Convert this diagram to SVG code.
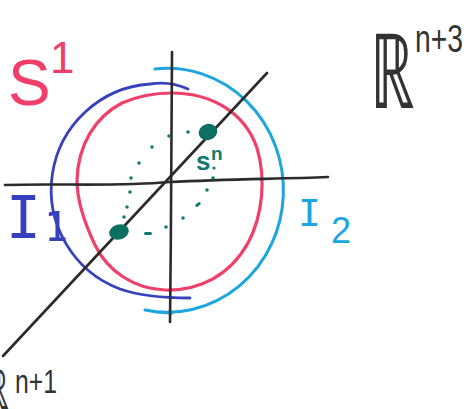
<svg xmlns="http://www.w3.org/2000/svg" width="468" height="409" viewBox="0 0 468 409">
<style>
.ln{fill:none;stroke-linecap:round;stroke-linejoin:round}
.blk{stroke:#2b2b2b;stroke-width:2.6}
.dot{fill:#11796f}
.t{font-family:"Liberation Sans","DejaVu Sans",sans-serif}
.m{font-family:"DejaVu Sans Mono","Liberation Mono",monospace}
</style>
<rect width="468" height="409" fill="#ffffff"/>
<g id="circles">
<path id="S1" class="ln" stroke="#f03f68" stroke-width="3.2" d="M172,93 C212,93 245,113 257,148 C266,178 263,215 248,243 C230,275 200,291 165,290 C135,289 108,272 95,245 C84,222 77,200 77,180 C78,145 95,117 122,103 C138,96 155,93 172,93 Z"/>
<path id="I1arc" class="ln" stroke="#3641bd" stroke-width="2.8" d="M188,89 C175,83 162,82 150,84 A106,106 0 0 0 120,289 C140,296 165,298 190,298"/>
<path id="I2arc" class="ln" stroke="#1ca6e0" stroke-width="3" d="M155,69 A116,122 0 1 1 145,310 C155,312 162,313 172,313"/>
</g>
<g id="axes">
<path class="ln blk" d="M172,52 C172,130 171,230 170,322"/>
<path class="ln blk" d="M5,185 C60,183 110,187 170,182 C230,179 280,179 328,177"/>
<path class="ln blk" d="M3,356 L267,73"/>
</g>
<g id="sphere">
<circle class="dot" cx="169" cy="136" r="1.8"/>
<circle class="dot" cx="188" cy="132" r="1.8"/>
<circle class="dot" cx="152" cy="147" r="1.8"/>
<circle class="dot" cx="139" cy="163" r="1.8"/>
<circle class="dot" cx="131" cy="178" r="1.8"/>
<circle class="dot" cx="130" cy="192" r="1.8"/>
<circle class="dot" cx="127" cy="207" r="1.8"/>
<circle class="dot" cx="124" cy="217" r="1.8"/>
<rect class="dot" x="144" y="232" width="8" height="3" rx="1.5"/>
<circle class="dot" cx="166" cy="227" r="1.8"/>
<circle class="dot" cx="183" cy="218" r="1.8"/>
<rect class="dot" x="195" y="203" width="6" height="3" rx="1.5" transform="rotate(-40 198 204.5)"/>
<circle class="dot" cx="207" cy="190" r="1.8"/>
<circle class="dot" cx="213" cy="178" r="1.8"/>
<circle class="dot" cx="214" cy="168" r="1.6"/>
<ellipse cx="208" cy="132" rx="9.5" ry="8" fill="#0d6e63" transform="rotate(-20 208 132)"/>
<ellipse cx="119" cy="232" rx="10" ry="7.5" fill="#0d6e63" transform="rotate(-15 119 232)"/>
<text class="t" x="196" y="170" font-size="26" fill="#11796f" font-weight="bold">s</text>
<text class="t" x="211" y="160" font-size="19" fill="#11796f" font-weight="bold">n</text>
</g>
<g id="labels">
<text class="t" x="8" y="105" font-size="64" fill="#f03f68" font-weight="300">S</text>
<text class="t" x="50" y="73" font-size="44" fill="#f03f68" font-weight="300">1</text>
<text class="m" x="6" y="238" font-size="58" fill="#3641bd" font-weight="300">I</text>
<text class="m" x="44" y="241" font-size="40" fill="#3641bd" font-weight="300">1</text>
<text class="m" x="298" y="226" font-size="38" fill="#1ca6e0" font-weight="300">I</text>
<text class="t" x="331" y="243" font-size="36" fill="#1ca6e0" font-weight="300">2</text>
<text transform="translate(370,108) scale(0.6,1)" font-family="DejaVu Sans,sans-serif" font-size="104" fill="#333333" font-weight="300">ℝ</text>
<text class="t" x="415" y="52" font-size="38" fill="#333333" font-weight="300" textLength="48" lengthAdjust="spacingAndGlyphs">n+3</text>
<text transform="translate(-16,409) scale(0.62,1)" font-family="DejaVu Sans,sans-serif" font-size="56" fill="#333333" font-weight="300">ℝ</text>
<text class="t" x="15" y="393" font-size="34" fill="#333333" font-weight="300" textLength="42" lengthAdjust="spacingAndGlyphs">n+1</text>
</g>
</svg>
